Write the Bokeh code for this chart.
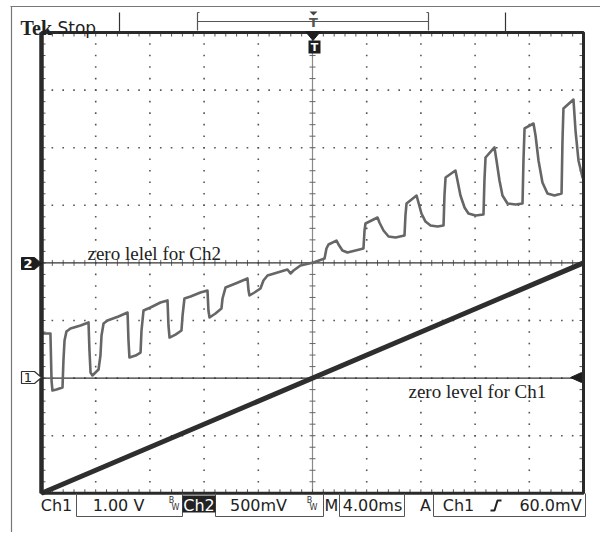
import numpy as np
from bokeh.plotting import figure
from bokeh.models import Range1d, Label
from bokeh.embed import file_html
from bokeh.resources import INLINE

# ---------------- scope settings ----------------
time_per_div_ms = 4.0
ch1_volts_per_div = 1.0
ch2_volts_per_div = 0.5
ch1_offset_div = -2.0
ch2_offset_div = 0.0
h_divs = 10
v_divs = 8

# ---------------- data ----------------
ch1_t = [-20.0, 20.0]          # ms
ch1_v = [-2.0, 2.0]            # V

ch2_t = [-20.00, -19.34, -19.26, -19.19, -18.89, -18.45, -18.38, -18.30, -18.16, -17.86,
         -17.12, -16.53, -16.46, -16.38, -16.24, -15.79, -15.65, -15.57, -15.42, -15.13,
         -14.32, -13.65, -13.58, -13.51, -13.06, -12.69, -12.62, -12.47, -11.96, -11.22,
         -10.70, -10.63, -10.55, -10.11, -9.67, -9.59, -9.45, -9.00, -8.27, -7.75,
         -7.68, -7.60, -7.16, -6.72, -6.64, -6.42, -5.68, -4.80, -4.72, -4.65,
         -4.28, -3.84, -3.62, -3.32, -2.58, -1.85, -1.62, -1.40, -0.89, 0.07,
         0.89, 1.03, 1.18, 1.77, 1.92, 2.21, 2.58, 3.17, 3.76, 3.84,
         3.91, 4.80, 4.94, 5.24, 5.61, 6.13, 6.79, 6.86, 6.94, 7.68,
         7.82, 8.04, 8.34, 8.71, 9.23, 9.67, 9.74, 9.82, 10.55, 10.70,
         10.92, 11.22, 11.51, 12.03, 12.62, 12.69, 12.77, 13.43, 13.58, 13.80,
         14.02, 14.39, 14.98, 15.50, 15.57, 15.65, 16.31, 16.46, 16.68, 16.97,
         17.34, 17.86, 18.38, 18.45, 18.52, 19.26, 19.41, 19.63, 19.93, 20.00]
ch2_v = [-0.613, -0.613, -1.021, -1.108, -1.099, -1.082, -0.847, -0.674, -0.595, -0.569,
         -0.543, -0.517, -0.760, -0.951, -0.977, -0.925, -0.804, -0.630, -0.526, -0.500,
         -0.465, -0.431, -0.674, -0.821, -0.804, -0.778, -0.587, -0.413, -0.387, -0.344,
         -0.326, -0.543, -0.648, -0.622, -0.587, -0.457, -0.309, -0.292, -0.257, -0.240,
         -0.413, -0.474, -0.439, -0.396, -0.309, -0.214, -0.179, -0.135, -0.240, -0.283,
         -0.257, -0.222, -0.153, -0.109, -0.083, -0.057, -0.092, -0.066, -0.023, 0.003,
         0.038, 0.125, 0.160, 0.194, 0.160, 0.108, 0.090, 0.108, 0.125, 0.281,
         0.342, 0.394, 0.351, 0.281, 0.229, 0.220, 0.238, 0.411, 0.516, 0.585,
         0.524, 0.429, 0.359, 0.325, 0.316, 0.325, 0.585, 0.741, 0.802, 0.715,
         0.585, 0.481, 0.429, 0.411, 0.420, 0.715, 0.915, 1.002, 0.889, 0.715,
         0.585, 0.516, 0.507, 0.516, 0.889, 1.167, 1.210, 1.106, 0.889, 0.698,
         0.602, 0.585, 0.602, 1.063, 1.340, 1.418, 1.149, 0.889, 0.741, 0.733]

ch1_scale_label = "1.00 V"
ch2_scale_label = "500mV"
time_label = "4.00ms"
trigger_label = "60.0mV"
ch2_zero_text = "zero lelel for Ch2"
ch1_zero_text = "zero level for Ch1"

# ---------------- layout (page pixels) ----------------
PX_PER_MS = 54.2 / time_per_div_ms
PX_PER_DIV = 57.6
CX, CY = 312.0, 262.4
ORIGIN = 0
FIG_W, FIG_H = 600, 532


def X(px):
    return (px - CX) / PX_PER_MS


def Y(py):
    return (CY - py) / PX_PER_DIV


p = figure(width=FIG_W, height=FIG_H, output_backend="svg", toolbar_location=None,
           x_axis_type=None, y_axis_type=None, min_border=0,
           x_range=Range1d(X(ORIGIN), X(ORIGIN + FIG_W)),
           y_range=Range1d(Y(ORIGIN + FIG_H), Y(ORIGIN)))
p.grid.visible = False
p.outline_line_color = None
p.background_fill_color = "white"
p.border_fill_color = "white"

half_t = h_divs / 2 * time_per_div_ms
half_v = v_divs / 2
minor_t = np.linspace(-half_t, half_t, h_divs * 5 + 1)
minor_v = np.linspace(-half_v, half_v, v_divs * 5 + 1)

DARK = "#2a2a2a"

# dotted graticule
gx, gy = [], []
for k in range(1, h_divs):
    t = -half_t + k * time_per_div_ms
    if abs(t) < 1e-9:
        continue
    gx += [t] * len(minor_v)
    gy += list(minor_v)
for k in range(1, v_divs):
    d = -half_v + k
    if abs(d) < 1e-9:
        continue
    gx += list(minor_t)
    gy += [d] * len(minor_t)
p.scatter(gx, gy, marker="square", size=1.6, fill_color="#555555", line_color=None)

# center lines
p.segment([0], [-half_v], [0], [half_v], line_color="#8a8a8a", line_width=1.2)
tl_x = 3 / PX_PER_MS
tl_y = 3 / PX_PER_DIV
p.segment(-tl_x * np.ones_like(minor_v), minor_v, tl_x * np.ones_like(minor_v), minor_v,
          line_color="#666666", line_width=1)
p.segment(minor_t, -tl_y * np.ones_like(minor_t), minor_t, tl_y * np.ones_like(minor_t),
          line_color="#666666", line_width=1)

# border ticks
bl_x = 4 / PX_PER_MS
bl_y = 4 / PX_PER_DIV
p.segment(minor_t, half_v * np.ones_like(minor_t), minor_t, (half_v - bl_y) * np.ones_like(minor_t),
          line_color="#555555", line_width=1)
p.segment(minor_t, -half_v * np.ones_like(minor_t), minor_t, (-half_v + bl_y) * np.ones_like(minor_t),
          line_color="#555555", line_width=1)
p.segment(-half_t * np.ones_like(minor_v), minor_v, (-half_t + bl_x) * np.ones_like(minor_v), minor_v,
          line_color="#555555", line_width=1)
p.segment(half_t * np.ones_like(minor_v), minor_v, (half_t - bl_x) * np.ones_like(minor_v), minor_v,
          line_color="#555555", line_width=1)

# zero-level lines
p.segment([-half_t, -half_t], [ch2_offset_div, ch1_offset_div], [half_t, half_t],
          [ch2_offset_div, ch1_offset_div], line_color="#333333", line_width=1.4)

# traces
ch1_y = np.array(ch1_v) / ch1_volts_per_div + ch1_offset_div
ch2_y = np.array(ch2_v) / ch2_volts_per_div + ch2_offset_div
p.line(ch1_t, ch1_y, line_color="#2e2e2e", line_width=5)
p.line(ch2_t, ch2_y, line_color="#666666", line_width=2.6, line_join="round")

# graticule border
p.quad(left=[-half_t], right=[half_t], bottom=[-half_v], top=[half_v],
       fill_color=None, line_color=DARK, line_width=3)
p.segment([-half_t], [-half_v], [-half_t], [half_v], line_color=DARK, line_width=4.5)

# channel markers at left
p.patch([X(21), X(34), X(41), X(34), X(21)], [Y(257), Y(257), Y(263), Y(269), Y(269)],
        fill_color="#1e1e1e", line_color="#1e1e1e")
p.patch([X(21), X(34), X(41), X(34), X(21)], [Y(371), Y(371), Y(377), Y(383), Y(383)],
        fill_color="white", line_color="#333333", line_width=1.2)
p.add_layout(Label(x=X(27.5), y=Y(263), text="2", text_color="white", text_font="DejaVu Sans",
                   text_font_style="bold", text_font_size="13px", text_align="center",
                   text_baseline="middle"))
p.add_layout(Label(x=X(27.5), y=Y(377), text="1", text_color="#222222", text_font="DejaVu Sans",
                   text_font_size="13px", text_align="center", text_baseline="middle"))

# trigger level arrow (right)
p.patch([X(570), X(581), X(581)], [Y(377), Y(372), Y(382)], fill_color="#1e1e1e", line_color="#1e1e1e")

# trigger position marker (top)
p.patch([X(305), X(320), X(312.5)], [Y(31), Y(31), Y(40)], fill_color="#1e1e1e", line_color="#1e1e1e")
p.quad(left=[X(308)], right=[X(320)], top=[Y(40)], bottom=[Y(53)], fill_color="#1e1e1e", line_color=None)
p.add_layout(Label(x=X(314), y=Y(46.5), text="T", text_color="white", text_font="DejaVu Sans",
                   text_font_style="bold", text_font_size="11px", text_align="center",
                   text_baseline="middle"))

# annotations
p.add_layout(Label(x=X(87), y=Y(253), text=ch2_zero_text, text_font="Liberation Serif",
                   text_font_size="19px", text_color="#222222", text_baseline="alphabetic"))
p.add_layout(Label(x=X(408), y=Y(391), text=ch1_zero_text, text_font="Liberation Serif",
                   text_font_size="19px", text_color="#222222", text_baseline="alphabetic"))

# ---------------- top status area ----------------
p.segment([X(10)], [Y(6)], [X(601)], [Y(6)], line_color="#777777", line_width=1.2)
p.segment([X(11)], [Y(6)], [X(11)], [Y(533)], line_color="#777777", line_width=1.2)
p.add_layout(Label(x=X(20), y=Y(27), text="Tek", text_font="Liberation Serif", text_font_style="bold",
                   text_font_size="20px", text_color="#222222", text_baseline="alphabetic"))
p.add_layout(Label(x=X(57), y=Y(27), text="Stop", text_font="DejaVu Sans",
                   text_font_size="17px", text_color="#222222", text_baseline="alphabetic"))
p.segment([X(119), X(505)], [Y(12), Y(12)], [X(119), X(505)], [Y(32), Y(32)],
          line_color="#333333", line_width=1.2)
p.segment([X(197), X(197), X(428), X(197), X(426)], [Y(21), Y(12), Y(12), Y(12), Y(12)],
          [X(428), X(197), X(428), X(199), X(428)], [Y(21), Y(30), Y(30), Y(12), Y(12)],
          line_color="#555555", line_width=1.2)
p.patch([X(309), X(317), X(313)], [Y(11), Y(11), Y(15)], fill_color="#444444", line_color=None)
p.add_layout(Label(x=X(313), y=Y(22), text="T", text_font="DejaVu Sans", text_font_style="bold",
                   text_font_size="13px", text_color="#555555", text_align="center",
                   text_baseline="middle"))

# ---------------- bottom status bar ----------------
STATUS_Y = Y(505)
boxes = [(76, 182), (215, 323), (339, 404), (433, 585)]
for l, r in boxes:
    p.line([X(l), X(l), X(r), X(r)], [Y(493), Y(516), Y(516), Y(493)], line_color="#555555", line_width=1)
p.quad(left=[X(182)], right=[X(215)], top=[Y(495)], bottom=[Y(512)], fill_color="#222222", line_color=None)


def status(px, txt, color="#222222", align="center", size="16px"):
    p.add_layout(Label(x=X(px), y=STATUS_Y, text=txt, text_font="DejaVu Sans", text_font_size=size,
                       text_color=color, text_align=align, text_baseline="middle"))


status(56, "Ch1")
status(118, ch1_scale_label)
status(198.5, "Ch2", color="white")
status(258, ch2_scale_label)
status(331, "M")
status(372, time_label)
status(425, "A")
status(458, "Ch1")
status(550, trigger_label)
for bx in (171, 309):
    p.add_layout(Label(x=X(bx), y=Y(500), text="B", text_font="DejaVu Sans", text_font_size="8px",
                       text_color="#333333", text_align="center", text_baseline="middle"))
    p.add_layout(Label(x=X(bx + 4), y=Y(507), text="W", text_font="DejaVu Sans", text_font_size="8px",
                       text_color="#333333", text_align="center", text_baseline="middle"))
# rising-edge symbol
p.line([X(490), X(494), X(497), X(501)], [Y(510), Y(510), Y(500), Y(500)],
       line_color="#222222", line_width=2)

open("out.html", "w").write(file_html(p, INLINE))
